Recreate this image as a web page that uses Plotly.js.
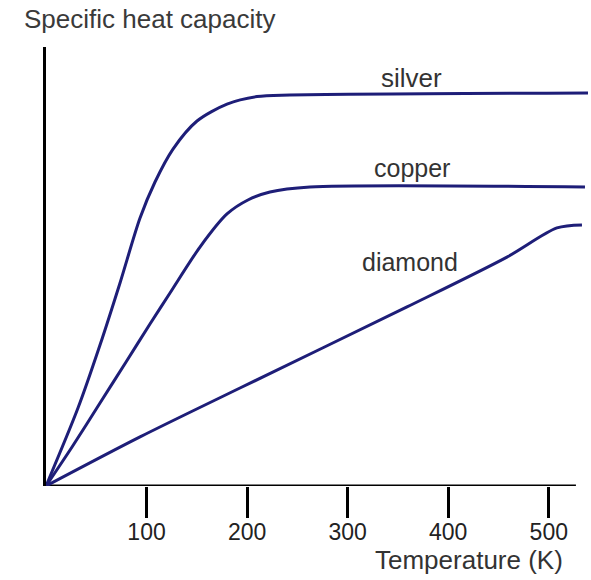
<!DOCTYPE html>
<html>
<head>
<meta charset="utf-8">
<script src="https://cdn.plot.ly/plotly-3.0.1.min.js"></script>
<style>html,body{margin:0;padding:0;background:#fff;}#chart{width:591px;height:580px;}</style>
</head>
<body>
<div id="chart"></div>
<script>
// Temperature (K) and specific heat capacity (arbitrary units, ~J/mol·K)
var silverT = [0, 31.8, 53.7, 73.6, 93.5, 108.4, 126.3, 150.2, 180, 209.8, 242.6, 539];
var silverC = [0, 4.97, 8.99, 12.95, 17.09, 19.39, 21.49, 23.28, 24.36, 24.84, 24.94, 25.07];

var copperT = [0, 25.9, 53.7, 79.6, 103.4, 123.3, 153.1, 180, 200.8, 222.7, 262.5, 536];
var copperC = [0, 2.49, 5.29, 7.91, 10.33, 12.31, 15.24, 17.35, 18.24, 18.75, 19.07, 19.07];

var diamondT = [0, 93.5, 192.9, 359, 458.4, 508.1, 533];
var diamondC = [0, 3.13, 6.25, 11.42, 14.6, 16.46, 16.65];

var tickVals = [100, 200, 300, 400, 500];
var seriesNames = ['silver', 'copper', 'diamond'];

var lineColor = '#1e1e78';
var textFont = 'Liberation Sans, Arial, sans-serif';

function mk(x, y, name) {
  return {x: x, y: y, name: name, type: 'scatter', mode: 'lines',
          line: {color: lineColor, width: 3, shape: 'spline', smoothing: 0.8},
          hoverinfo: 'x+y+name'};
}

var data = [mk(silverT, silverC, seriesNames[0]),
            mk(copperT, copperC, seriesNames[1]),
            mk(diamondT, diamondC, seriesNames[2])];

var layout = {
  width: 591, height: 580,
  margin: {l: 46, r: 2, t: 47, b: 94},
  paper_bgcolor: '#fff', plot_bgcolor: '#fff',
  showlegend: false,
  font: {family: textFont, color: '#333'},
  title: {text: 'Specific heat capacity', font: {family: textFont, size: 26, color: '#3a3a3a'},
          xref: 'container', yref: 'container', x: 24/591, xanchor: 'left',
          y: 1 - 19/580, yanchor: 'middle'},
  xaxis: {range: [0, 540], showgrid: false, zeroline: false, showline: false,
          ticks: 'outside', ticklen: 31, tickwidth: 3, tickcolor: '#000',
          ticklabelstandoff: -6,
          tickvals: tickVals, tickfont: {family: textFont, size: 23, color: '#222'}},
  yaxis: {range: [0, 28], showgrid: false, zeroline: false, showline: true,
          linecolor: '#000', linewidth: 3, showticklabels: false, ticks: ''},
  shapes: [{type: 'line', xref: 'x', yref: 'y', x0: 0, x1: 527, y0: 0, y1: 0,
            line: {color: '#000', width: 3}, layer: 'below'}],
  annotations: [
    {text: seriesNames[0], xref: 'x', yref: 'y', x: 363, y: 26.0, showarrow: false,
     xanchor: 'center', yanchor: 'middle', font: {family: textFont, size: 26, color: '#333'}},
    {text: seriesNames[1], xref: 'x', yref: 'y', x: 364, y: 20.3, showarrow: false,
     xanchor: 'center', yanchor: 'middle', font: {family: textFont, size: 25, color: '#333'}},
    {text: seriesNames[2], xref: 'x', yref: 'y', x: 361.5, y: 14.3, showarrow: false,
     xanchor: 'center', yanchor: 'middle', font: {family: textFont, size: 25, color: '#333'}},
    {text: 'Temperature (K)', xref: 'paper', yref: 'paper', x: (468.5 - 46) / 543, y: -(559.5 - 486) / 439,
     showarrow: false, xanchor: 'center', yanchor: 'middle', font: {family: textFont, size: 26, color: '#333'}}
  ]
};

Plotly.newPlot('chart', data, layout, {displayModeBar: false, staticPlot: true});
</script>
</body>
</html>
